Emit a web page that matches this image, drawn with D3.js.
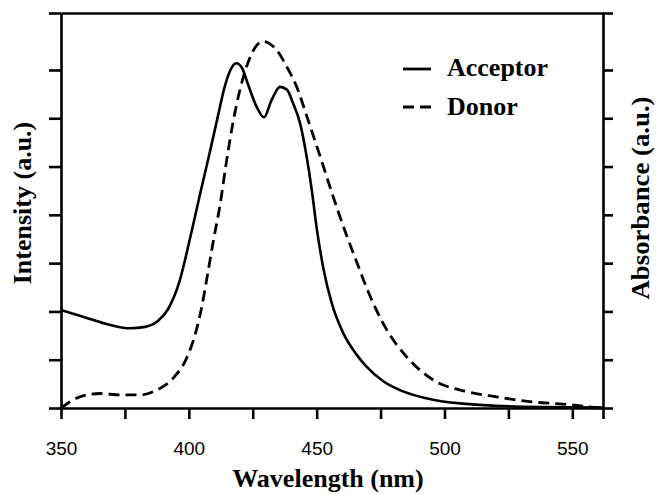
<!DOCTYPE html>
<html><head><meta charset="utf-8">
<script src="https://cdn.jsdelivr.net/npm/d3@7"></script>
<style>
html,body{margin:0;padding:0;background:#fff;}
svg{display:block;}
.lbl{font-family:"Liberation Serif","Times New Roman",serif;font-weight:bold;font-size:26px;fill:#000;}
.tick text{font-family:"Liberation Sans",Arial,sans-serif;font-size:19px;fill:#000;}
</style>
</head><body>
<svg id="chart" width="656" height="494"></svg>
<script>
// Wavelength range (nm) and intensity range (a.u.)
const xDomain = [350, 562];
const yDomain = [0, 8.18];
const xTickValues = [350, 375, 400, 425, 450, 475, 500, 525, 550, 562];
const xTickLabels = [350, 400, 450, 500, 550];
const yTickValues = [0, 1, 2, 3, 4, 5, 6, 7, 8.18];

// Acceptor (solid): wavelength (nm), intensity (a.u.)
const acceptorX = [350.0, 358.6, 369.2, 377.0, 382.9, 387.9, 391.9, 396.5, 400.5, 404.4, 408.3, 411.4, 413.8, 416.1, 418.5, 420.8, 423.1, 426.5, 429.4, 432.4, 435.7, 438.4, 440.7, 443.5, 446.1, 448.1, 450.0, 452.6, 455.9, 460.4, 465.7, 469.6, 475.9, 482.6, 495.5, 515.1, 537.4, 562.0];
const acceptorY = [2.03, 1.89, 1.72, 1.65, 1.68, 1.80, 2.05, 2.65, 3.52, 4.43, 5.32, 6.05, 6.61, 6.98, 7.14, 7.04, 6.71, 6.24, 6.02, 6.38, 6.65, 6.59, 6.32, 5.90, 5.20, 4.51, 3.73, 2.90, 2.17, 1.55, 1.10, 0.85, 0.56, 0.37, 0.17, 0.06, 0.02, 0.01];

// Donor (dashed): wavelength (nm), absorbance (a.u.)
const donorX = [350.0, 357.4, 365.3, 373.1, 380.9, 387.4, 393.9, 399.2, 402.4, 405.2, 407.5, 409.8, 412.2, 414.5, 417.3, 420.0, 422.4, 424.7, 426.7, 429.1, 431.7, 434.4, 438.3, 442.2, 446.1, 451.3, 456.5, 461.8, 465.7, 469.6, 477.4, 485.2, 495.6, 508.7, 520.4, 533.4, 546.4, 560.8];
const donorY = [0.00, 0.23, 0.30, 0.27, 0.27, 0.37, 0.62, 1.04, 1.51, 2.13, 2.82, 3.52, 4.20, 5.03, 5.92, 6.59, 7.04, 7.35, 7.52, 7.59, 7.54, 7.41, 7.07, 6.65, 6.05, 5.22, 4.37, 3.56, 3.02, 2.48, 1.62, 1.06, 0.58, 0.34, 0.23, 0.13, 0.08, 0.00];

const seriesNames = ["Acceptor", "Donor"];

const svg = d3.select("#chart");
const m = {left: 61, right: 53, top: 13, bottom: 86};
const W = 656, H = 494;
const x = d3.scaleLinear().domain(xDomain).range([m.left, W - m.right]);
const y = d3.scaleLinear().domain(yDomain).range([H - m.bottom, m.top]);

const line = d3.line().x(d => x(d[0])).y(d => y(d[1])).curve(d3.curveMonotoneX);
const acc = acceptorX.map((v, i) => [v, acceptorY[i]]);
const don = donorX.map((v, i) => [v, donorY[i]]);

svg.append("path").datum(don).attr("d", line)
  .attr("fill", "none").attr("stroke", "#000").attr("stroke-width", 2.8)
  .attr("stroke-dasharray", "11,6");
svg.append("path").datum(acc).attr("d", line)
  .attr("fill", "none").attr("stroke", "#000").attr("stroke-width", 2.6);

function styleAxis(g) {
  g.selectAll("path.domain").attr("stroke", "#000").attr("stroke-width", 2.6);
  g.selectAll(".tick line").attr("stroke", "#000").attr("stroke-width", 2.6);
}

// bottom axis
const gx = svg.append("g").attr("transform", `translate(0,${y(0)})`)
  .call(d3.axisBottom(x).tickValues(xTickValues).tickSize(11).tickSizeOuter(0)
    .tickPadding(36)
    .tickFormat(d => xTickLabels.includes(d) ? d : ""));
styleAxis(gx);
gx.selectAll(".tick text").attr("dy", "0");

// top axis (frame)
const gt = svg.append("g").attr("transform", `translate(0,${y(yDomain[1])})`)
  .call(d3.axisTop(x).tickValues([]).tickSizeOuter(0));
styleAxis(gt);

// left axis
const gl = svg.append("g").attr("transform", `translate(${x(xDomain[0])},0)`)
  .call(d3.axisLeft(y).tickValues(yTickValues).tickSize(12).tickSizeOuter(0).tickFormat(""));
styleAxis(gl);

// right axis
const gr = svg.append("g").attr("transform", `translate(${x(xDomain[1])},0)`)
  .call(d3.axisRight(y).tickValues(yTickValues).tickSize(10).tickSizeOuter(0).tickFormat(""));
styleAxis(gr);

// axis titles
svg.append("text").attr("class", "lbl")
  .attr("transform", `translate(31,203) rotate(-90)`)
  .attr("text-anchor", "middle").text("Intensity (a.u.)");
svg.append("text").attr("class", "lbl")
  .attr("transform", `translate(649,198) rotate(-90)`)
  .attr("text-anchor", "middle")
  .attr("textLength", 203).attr("lengthAdjust", "spacingAndGlyphs")
  .text("Absorbance (a.u.)");
svg.append("text").attr("class", "lbl")
  .attr("x", 328).attr("y", 487).attr("text-anchor", "middle").text("Wavelength (nm)");

// legend
const leg = svg.append("g");
const legY = [69, 107];
const legBase = [76, 115];
seriesNames.forEach((name, i) => {
  leg.append("line").attr("x1", 403).attr("x2", 431).attr("y1", legY[i]).attr("y2", legY[i])
    .attr("stroke", "#000").attr("stroke-width", 2.8)
    .attr("stroke-dasharray", i === 1 ? "11,6" : null);
  leg.append("text").attr("class", "lbl").attr("x", 447).attr("y", legBase[i]).text(name);
});
</script>
</body></html>
